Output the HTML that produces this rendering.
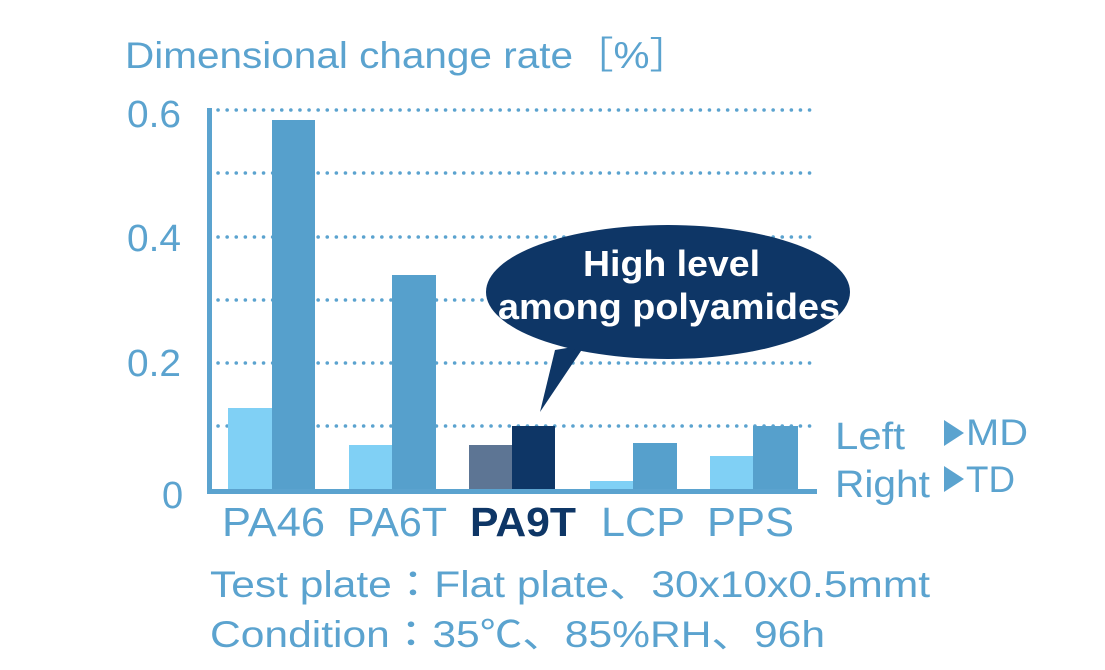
<!DOCTYPE html>
<html><head><meta charset="utf-8"><style>
html,body{margin:0;padding:0;background:#fff;}
svg{display:block;}
text{font-family:"Liberation Sans","Noto Sans CJK JP",sans-serif;}
</style></head><body>
<svg width="1105" height="670" viewBox="0 0 1105 670" xmlns="http://www.w3.org/2000/svg">
<g fill="#5ba3cf">
<text x="125" y="68" font-size="37" textLength="565" lengthAdjust="spacingAndGlyphs">Dimensional change rate［%］</text>
<text x="127" y="127" font-size="38" textLength="54" lengthAdjust="spacingAndGlyphs">0.6</text>
<text x="127" y="251" font-size="38" textLength="54" lengthAdjust="spacingAndGlyphs">0.4</text>
<text x="127" y="376" font-size="38" textLength="54" lengthAdjust="spacingAndGlyphs">0.2</text>
<text x="162" y="508" font-size="38">0</text>
</g>
<g stroke="#5ba3cf" stroke-width="3.5" stroke-dasharray="0.1 9" stroke-linecap="round">
<line x1="218" y1="110" x2="815" y2="110"/>
<line x1="218" y1="173" x2="815" y2="173"/>
<line x1="218" y1="237" x2="815" y2="237"/>
<line x1="218" y1="300" x2="815" y2="300"/>
<line x1="218" y1="363" x2="815" y2="363"/>
<line x1="218" y1="426" x2="815" y2="426"/>
</g>
<rect x="207" y="108" width="5" height="386" fill="#5ba3cf"/>
<rect x="207" y="489" width="610" height="5" fill="#5ba3cf"/>
<rect x="228" y="408" width="44" height="81" fill="#80d0f5"/>
<rect x="272" y="120" width="43" height="369" fill="#56a0cc"/>
<rect x="349" y="445" width="43" height="44" fill="#80d0f5"/>
<rect x="392" y="275" width="44" height="214" fill="#56a0cc"/>
<rect x="469" y="445" width="43" height="44" fill="#5d7594"/>
<rect x="512" y="426" width="43" height="63" fill="#0e3666"/>
<rect x="590" y="481" width="43" height="8" fill="#80d0f5"/>
<rect x="633" y="443" width="44" height="46" fill="#56a0cc"/>
<rect x="710" y="456" width="43" height="33" fill="#80d0f5"/>
<rect x="753" y="426" width="45" height="63" fill="#56a0cc"/>
<path d="M555 350 L540 412 L585 345 Z" fill="#0e3666"/>
<ellipse cx="668" cy="292" rx="182" ry="67" fill="#0e3666"/>
<text x="583" y="276" font-size="36" font-weight="bold" fill="#fff" textLength="177" lengthAdjust="spacingAndGlyphs">High level</text>
<text x="498" y="319" font-size="36" font-weight="bold" fill="#fff" textLength="342" lengthAdjust="spacingAndGlyphs">among polyamides</text>
<g font-size="41" fill="#5ba3cf">
<text x="222" y="536" textLength="103" lengthAdjust="spacingAndGlyphs">PA46</text>
<text x="347" y="536" textLength="100" lengthAdjust="spacingAndGlyphs">PA6T</text>
<text x="470" y="536" font-weight="bold" fill="#0e3666" textLength="106" lengthAdjust="spacingAndGlyphs">PA9T</text>
<text x="601" y="536" textLength="84" lengthAdjust="spacingAndGlyphs">LCP</text>
<text x="707" y="536" textLength="87" lengthAdjust="spacingAndGlyphs">PPS</text>
</g>
<g font-size="38" fill="#5ba3cf">
<text x="835" y="449" textLength="70" lengthAdjust="spacingAndGlyphs">Left</text>
<text x="835" y="497" textLength="95" lengthAdjust="spacingAndGlyphs">Right</text>
<path d="M944 420 L964 433 L944 446 Z"/>
<text x="966" y="445" font-size="37" textLength="62" lengthAdjust="spacingAndGlyphs">MD</text>
<path d="M944 466 L964 479 L944 492 Z"/>
<text x="966" y="492" font-size="37" textLength="49" lengthAdjust="spacingAndGlyphs">TD</text>
<text x="210" y="597" font-size="37" textLength="720" lengthAdjust="spacingAndGlyphs">Test plate：Flat plate、30x10x0.5mmt</text>
<text x="210" y="647" font-size="37" textLength="615" lengthAdjust="spacingAndGlyphs">Condition：35℃、85%RH、96h</text>
</g>
</svg>
</body></html>
